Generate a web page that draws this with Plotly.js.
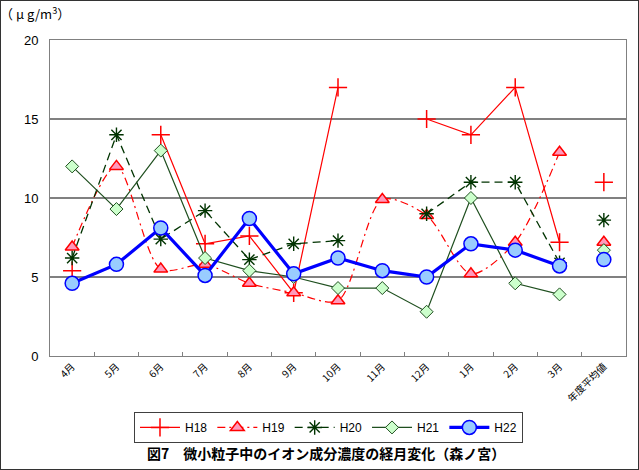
<!DOCTYPE html>
<html>
<head>
<meta charset="utf-8">
<script src="https://cdn.plot.ly/plotly-3.0.1.min.js"></script>
<style>
  body { margin: 0; padding: 0; background: #fff; }
  #wrap { position: relative; width: 639px; height: 470px; }
  #chart { position: absolute; left: 0; top: 0; width: 639px; height: 470px; }
  #frame { position: absolute; left: 0; top: 0; width: 639px; height: 470px; box-sizing: border-box; border: 1px solid #333; pointer-events: none; }
</style>
</head>
<body>
<div id="wrap"><div id="chart"></div><div id="frame"></div></div>
<script>
// Categories
const months = ["4月","5月","6月","7月","8月","9月","10月","11月","12月","1月","2月","3月"];
const avgLabel = "年度平均値";
const seriesNames = ["H18","H19","H20","H21","H22"];

// Monthly values (μg/m3); null = no data
const h18 = [5.4, null, 14.0, 7.1, 7.6, 4.0, 17.0, null, 15.0, 14.0, 17.0, 7.2];
const h19 = [6.9, 12.0, 5.5, 5.8, 4.6, 4.0, 3.5, 9.9, 8.9, 5.2, 7.2, 12.9];
const h20 = [6.2, 14.0, 7.4, 9.2, 6.1, 7.1, 7.3, null, 9.0, 11.0, 11.0, 5.9];
const h21 = [12.0, 9.3, 13.0, 6.2, 5.4, 5.0, 4.3, 4.3, 2.8, 10.0, 4.6, 3.9];
const h22 = [4.6, 5.8, 8.1, 5.1, 8.7, 5.2, 6.2, 5.4, 5.0, 7.1, 6.7, 5.7];

// Annual averages
const avgH18 = 11.0, avgH19 = 7.2, avgH20 = 8.6, avgH21 = 6.7, avgH22 = 6.1;

const allCats = months.concat([avgLabel]);

const styles = {
  H18: {line: {color: "#FF0000", width: 1.2}, marker: {symbol: "cross-thin-open", size: 13, color: "#FF0000", line: {color: "#FF0000", width: 1.5}}},
  H19: {line: {color: "#FF0000", width: 1.2, dash: "8px,4px,2px,4px", shape: "spline", smoothing: 0.8}, marker: {symbol: "triangle-up", size: 12, color: "#FF99BB", line: {color: "#FF0000", width: 1.5}}},
  H20: {line: {color: "#003300", width: 1.3, dash: "8px,5px"}, marker: {symbol: "asterisk-open", size: 12, color: "#003300", line: {color: "#003300", width: 1.4}}},
  H21: {line: {color: "#1F4F1F", width: 1.2}, marker: {symbol: "diamond", size: 10, color: "#CCFFCC", line: {color: "#1F4F1F", width: 1}}},
  H22: {line: {color: "#0000FF", width: 3.2}, marker: {symbol: "circle", size: 14, color: "#99CCFF", line: {color: "#0000FF", width: 1.5}}}
};

const monthly = {H18: h18, H19: h19, H20: h20, H21: h21, H22: h22};
const avgs = {H18: avgH18, H19: avgH19, H20: avgH20, H21: avgH21, H22: avgH22};

const traces = [];
seriesNames.forEach(name => {
  const st = styles[name];
  traces.push({
    type: "scatter", mode: "lines+markers", name: name,
    x: months, y: monthly[name], connectgaps: false,
    line: st.line, marker: st.marker, cliponaxis: false
  });
});
seriesNames.forEach(name => {
  const st = styles[name];
  traces.push({
    type: "scatter", mode: "markers", name: name, showlegend: false,
    x: [avgLabel], y: [avgs[name]],
    marker: st.marker, cliponaxis: false
  });
});

const layout = {
  width: 639, height: 470,
  margin: {l: 50, r: 13, t: 40, b: 114},
  paper_bgcolor: "#fff", plot_bgcolor: "#fff",
  font: {family: "Liberation Sans, Arial, sans-serif", color: "#000"},
  showlegend: true,
  xaxis: {
    type: "category", categoryorder: "array", categoryarray: allCats,
    range: [-0.5, 12.5],
    tickangle: -45, tickfont: {size: 10, family: "Noto Sans CJK JP, sans-serif", color: "#000"},
    ticks: "inside", tickson: "boundaries", ticklen: 4, tickcolor: "#808080",
    showline: true, linecolor: "#808080", linewidth: 1, mirror: true,
    showgrid: false, zeroline: false, fixedrange: true
  },
  yaxis: {
    range: [0, 20], dtick: 5, tick0: 0,
    tickfont: {size: 13, family: "Liberation Sans, Arial, sans-serif", color: "#000"},
    ticks: "", ticklabelstandoff: 8,
    showline: true, linecolor: "#808080", linewidth: 1, mirror: true,
    showgrid: true, gridcolor: "#808080", gridwidth: 1.5,
    zeroline: false, fixedrange: true
  },
  legend: {
    orientation: "h", x: 0.4835, xanchor: "center", y: -0.177, yanchor: "top",
    bordercolor: "#404040", borderwidth: 1, bgcolor: "#fff",
    font: {size: 12, family: "Liberation Sans, Arial, sans-serif", color: "#000"},
    itemwidth: 40, tracegroupgap: 0
  },
  annotations: [
    {text: "（ μ g/m<sup>3</sup>）", xref: "paper", yref: "paper", x: -0.09, y: 1.085,
     xanchor: "left", yanchor: "middle", showarrow: false,
     font: {size: 13, family: "Noto Sans CJK JP, sans-serif", color: "#000"}},
    {text: "<b>図7　微小粒子中のイオン成分濃度の経月変化（森ノ宮）</b>", xref: "paper", yref: "paper",
     x: 0.48, y: -0.307, xanchor: "center", yanchor: "middle", showarrow: false,
     font: {size: 14, family: "Noto Sans CJK JP, sans-serif", color: "#000"}}
  ]
};

Plotly.newPlot("chart", traces, layout, {displayModeBar: false, staticPlot: true});
</script>
</body>
</html>
